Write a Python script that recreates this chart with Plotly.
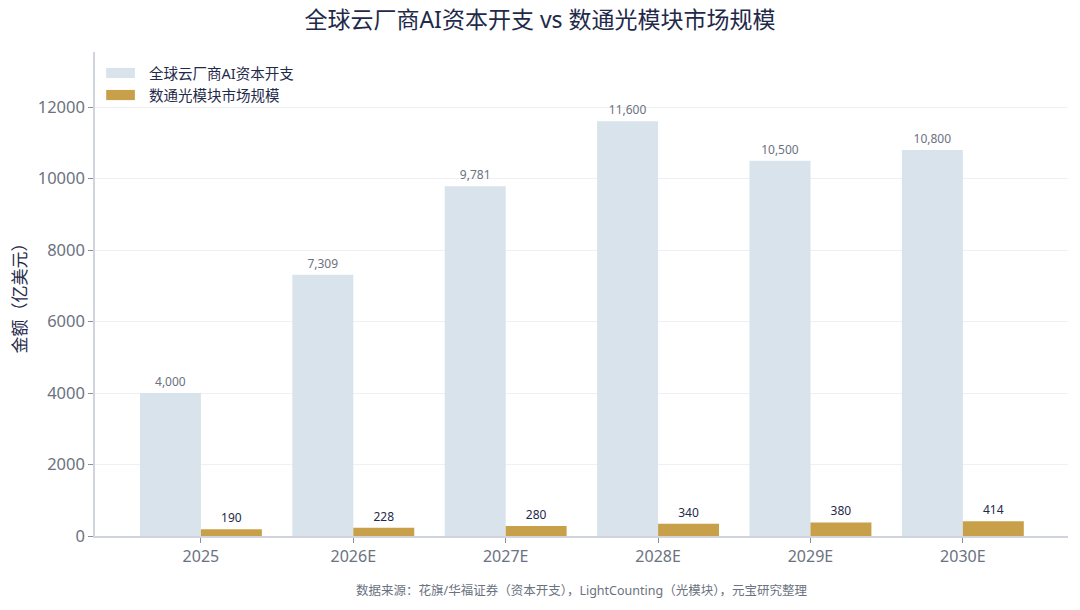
import plotly.graph_objects as go

years = ['2025', '2026E', '2027E', '2028E', '2029E', '2030E']
capex = [4000, 7309, 9781, 11600, 10500, 10800]
optical = [190, 228, 280, 340, 380, 414]
series_names = ['全球云厂商AI资本开支', '数通光模块市场规模']
series_colors = ['#d9e3eb', '#c8a04a']

FONT = 'Noto Sans, Noto Sans CJK SC, sans-serif'
NAVY = '#1f2a4a'
GREY = '#6b7280'

fig = go.Figure()
fig.add_trace(go.Bar(
    x=years, y=capex, name=series_names[0],
    marker=dict(color=series_colors[0], line=dict(width=0)),
    text=[f'{v:,}' for v in capex], textposition='outside',
    textfont=dict(size=12, color=GREY, family=FONT),
    cliponaxis=False,
))
fig.add_trace(go.Bar(
    x=years, y=optical, name=series_names[1],
    marker=dict(color=series_colors[1], line=dict(width=0)),
    text=[f'{v:,}' for v in optical], textposition='outside',
    textfont=dict(size=12, color=NAVY, family=FONT),
    cliponaxis=False,
))

# legend drawn by hand so the swatches are wide rectangles like the original
shapes = []
annotations = []
for i, (nm, col) in enumerate(zip(series_names, series_colors)):
    yc = 0.9566 - i * 0.0455
    shapes.append(dict(type='rect', xref='paper', yref='paper',
                       x0=0.0115, x1=0.041, y0=yc - 0.0105, y1=yc + 0.0105,
                       fillcolor=col, line=dict(width=0)))
    annotations.append(dict(text=nm, xref='paper', yref='paper', x=0.053, y=yc,
                            xanchor='left', yanchor='middle', showarrow=False,
                            font=dict(size=14.5, color=NAVY)))

annotations.append(dict(text='数据来源：花旗/华福证券（资本开支），LightCounting（光模块），元宝研究整理',
                        xref='paper', yref='paper', x=0.5, y=-0.112,
                        xanchor='center', yanchor='middle', showarrow=False,
                        font=dict(size=12.5, color=GREY)))

fig.update_layout(
    width=1080, height=610,
    margin=dict(l=95, r=12, t=52, b=74),
    paper_bgcolor='white', plot_bgcolor='white',
    font=dict(family=FONT, color=GREY),
    barmode='group', bargap=0.2, bargroupgap=0,
    showlegend=False,
    title=dict(text='全球云厂商AI资本开支 vs 数通光模块市场规模',
               x=0.5, xanchor='center', y=0.967, yanchor='middle',
               font=dict(size=23, color=NAVY, family=FONT)),
    xaxis=dict(range=[-0.695, 5.69], showline=True, linecolor='#d0d4dc',
               linewidth=1.5, ticks='outside', tickcolor='#8a8f99', ticklen=5,
               tickfont=dict(size=16, color=GREY), showgrid=False,
               automargin=False),
    yaxis=dict(range=[0, 13540], dtick=2000, tickformat='d', showline=True,
               linecolor='#d0d4dc', linewidth=1.5, ticks='outside',
               tickcolor='#8a8f99', ticklen=5, gridcolor='#eef0f4',
               tickfont=dict(size=16.5, color=GREY), zeroline=False,
               automargin=False,
               title=dict(text='金额（亿美元）', standoff=7,
                          font=dict(size=17, color=NAVY))),
    shapes=shapes,
    annotations=annotations,
)

# drop the page's default body margin so the figure sits at the window corner
fig.write_html('out.html', config={'displayModeBar': False},
               post_script="document.body.style.margin='0';")
